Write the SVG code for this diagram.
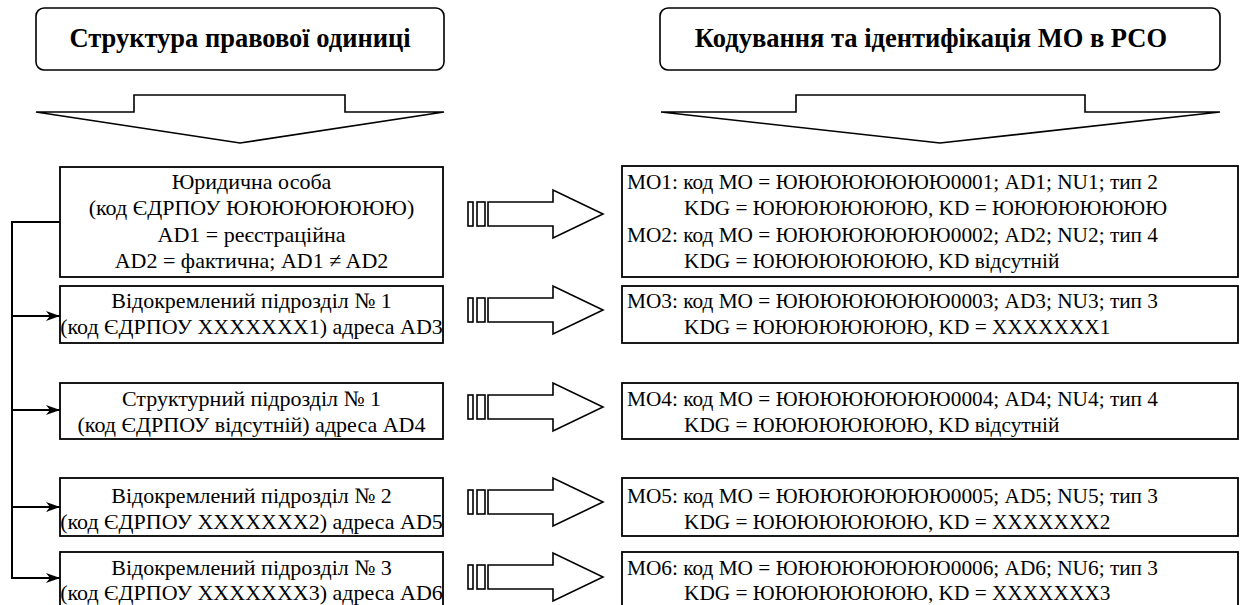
<svg xmlns="http://www.w3.org/2000/svg" width="1246" height="605" viewBox="0 0 1246 605">
<style>
.bg{fill:#fff}
.box{fill:#fff;stroke:#000;stroke-width:1.8}
.hdr{fill:#fff;stroke:#000;stroke-width:1.6}
.harrow{fill:#fff;stroke:#000;stroke-width:1.6;stroke-linejoin:miter}
.fat{fill:#fff;stroke:#000;stroke-width:1.6;stroke-linejoin:miter}
text{font-family:'Liberation Serif','Times New Roman',serif;fill:#000}
.t{font-size:22px}
.m{font-size:21.3px}
.c{text-anchor:middle}
.title{font-size:26.5px;font-weight:bold;text-anchor:middle}
.conn{fill:none;stroke:#000;stroke-width:2}
</style>
<defs>
<marker id="ah" viewBox="0 0 14 10" refX="14" refY="5" markerWidth="14" markerHeight="10" markerUnits="userSpaceOnUse" orient="auto">
<path d="M0,0 L14,5 L0,10 L4,5 Z" fill="#000"/>
</marker>
<g id="striped">
<rect x="0" y="-12" width="5" height="24" class="fat"/>
<rect x="9" y="-12" width="8" height="24" class="fat"/>
<path d="M20,-12 L85,-12 L85,-24 L135,0 L85,24 L85,12 L20,12 Z" class="fat"/>
</g>
</defs>
<rect class="bg" x="0" y="0" width="1246" height="605"/>

<g id="header-left">
<rect class="hdr" x="36" y="8" width="408" height="62" rx="8"/>
<text class="title" x="240" y="47">Структура правової одиниці</text>
</g>
<g id="header-right">
<rect class="hdr" x="660" y="8" width="560" height="62" rx="8"/>
<text class="title" x="931" y="47">Кодування та ідентифікація МО в РСО</text>
</g>
<g id="down-arrow-left">
<path class="harrow" d="M36,112 L134,112 L134,95 L345,95 L345,112 L444,112 L240,143 Z"/>
</g>
<g id="down-arrow-right">
<path class="harrow" d="M661,112 L796,112 L796,95 L1085,95 L1085,112 L1220,112 L940,143 Z"/>
</g>

<g id="node-legal">
<rect class="box" x="60" y="167" width="383" height="110"/>
<text class="t c" x="251.5" y="189">Юридична особа</text>
<text class="t c" x="251.5" y="215">(код ЄДРПОУ ЮЮЮЮЮЮЮЮ)</text>
<text class="t c" x="251.5" y="242">AD1 = реєстраційна</text>
<text class="t c" x="251.5" y="268">AD2 = фактична; AD1 ≠ AD2</text>
</g>
<g id="node-vp1">
<rect class="box" x="60" y="286" width="383" height="57"/>
<text class="t c" x="251.5" y="308">Відокремлений підрозділ № 1</text>
<text class="t c" x="251.5" y="334">(код ЄДРПОУ XXXXXXX1) адреса AD3</text>
</g>
<g id="node-sp1">
<rect class="box" x="60" y="383" width="383" height="56"/>
<text class="t c" x="251.5" y="406">Структурний підрозділ № 1</text>
<text class="t c" x="251.5" y="432">(код ЄДРПОУ відсутній) адреса AD4</text>
</g>
<g id="node-vp2">
<rect class="box" x="60" y="478" width="383" height="58"/>
<text class="t c" x="251.5" y="503">Відокремлений підрозділ № 2</text>
<text class="t c" x="251.5" y="529">(код ЄДРПОУ XXXXXXX2) адреса AD5</text>
</g>
<g id="node-vp3">
<rect class="box" x="60" y="552" width="383" height="60"/>
<text class="t c" x="251.5" y="575">Відокремлений підрозділ № 3</text>
<text class="t c" x="251.5" y="600">(код ЄДРПОУ XXXXXXX3) адреса AD6</text>
</g>

<g id="node-mo12">
<rect class="box" x="622" y="166" width="616" height="111"/>
<text class="m" x="627" y="189">MO1: код MO = ЮЮЮЮЮЮЮЮ0001; AD1; NU1; тип 2</text>
<text class="m" x="684" y="215">KDG = ЮЮЮЮЮЮЮЮ, KD = ЮЮЮЮЮЮЮЮ</text>
<text class="m" x="627" y="242">MO2: код MO = ЮЮЮЮЮЮЮЮ0002; AD2; NU2; тип 4</text>
<text class="m" x="684" y="268">KDG = ЮЮЮЮЮЮЮЮ, KD відсутній</text>
</g>
<g id="node-mo3">
<rect class="box" x="622" y="286" width="616" height="57"/>
<text class="m" x="627" y="308">MO3: код MO = ЮЮЮЮЮЮЮЮ0003; AD3; NU3; тип 3</text>
<text class="m" x="684" y="334">KDG = ЮЮЮЮЮЮЮЮ, KD = XXXXXXX1</text>
</g>
<g id="node-mo4">
<rect class="box" x="622" y="383" width="616" height="56"/>
<text class="m" x="627" y="406">MO4: код MO = ЮЮЮЮЮЮЮЮ0004; AD4; NU4; тип 4</text>
<text class="m" x="684" y="432">KDG = ЮЮЮЮЮЮЮЮ, KD відсутній</text>
</g>
<g id="node-mo5">
<rect class="box" x="622" y="478" width="616" height="58"/>
<text class="m" x="627" y="503">MO5: код MO = ЮЮЮЮЮЮЮЮ0005; AD5; NU5; тип 3</text>
<text class="m" x="684" y="529">KDG = ЮЮЮЮЮЮЮЮ, KD = XXXXXXX2</text>
</g>
<g id="node-mo6">
<rect class="box" x="622" y="552" width="616" height="60"/>
<text class="m" x="627" y="575">MO6: код MO = ЮЮЮЮЮЮЮЮ0006; AD6; NU6; тип 3</text>
<text class="m" x="684" y="600">KDG = ЮЮЮЮЮЮЮЮ, KD = XXXXXXX3</text>
</g>

<g id="connectors">
<path class="conn" d="M60,222 L12,222 L12,578"/>
<path class="conn" d="M12,316 L60,316" marker-end="url(#ah)"/>
<path class="conn" d="M12,410 L60,410" marker-end="url(#ah)"/>
<path class="conn" d="M12,507 L60,507" marker-end="url(#ah)"/>
<path class="conn" d="M11,578 L60,578" marker-end="url(#ah)"/>
<use href="#striped" x="468" y="214"/>
<use href="#striped" x="468" y="310"/>
<use href="#striped" x="468" y="407"/>
<use href="#striped" x="468" y="502"/>
<use href="#striped" x="468" y="577"/>
</g>
</svg>
